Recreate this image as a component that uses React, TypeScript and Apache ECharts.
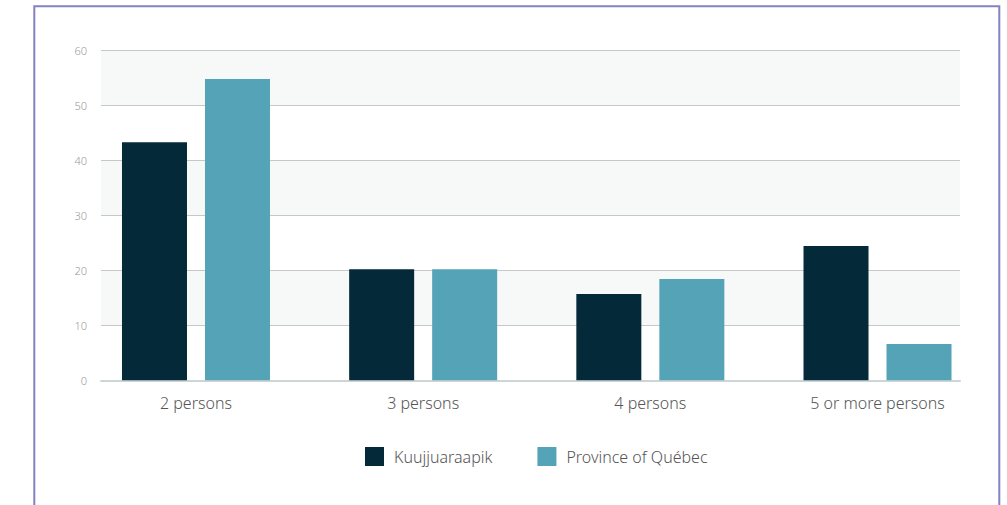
import React, { useEffect, useRef } from "react";
import * as echarts from "echarts";

const categories = ["2 persons", "3 persons", "4 persons", "5 or more persons"];
const kuujjuaraapik = [43.3, 20.2, 15.7, 24.4];
const quebec = [54.8, 20.2, 18.4, 6.6];
const seriesNames = ["Kuujjuaraapik", "Province of Québec"];
const colors = ["#042a3a", "#55a3b6"];

export default function App() {
  const ref = useRef<HTMLDivElement>(null);
  useEffect(() => {
    if (!ref.current) return;
    const chart = echarts.init(ref.current, null, { renderer: "svg" });
    const font = "'Noto Sans', 'Open Sans', sans-serif";
    chart.setOption({
      animation: false,
      textStyle: { fontFamily: font },
      graphic: [
        {
          type: "rect",
          shape: { x: 34.3, y: 6.3, width: 965, height: 540 },
          style: { fill: "none", stroke: "#8282c4", lineWidth: 2 },
          silent: true,
        },
      ],
      legend: {
        data: seriesNames,
        left: 365,
        top: 447,
        padding: 0,
        icon: "rect",
        itemWidth: 19,
        itemHeight: 19,
        itemGap: 45,
        textStyle: { fontSize: 16, color: "#555", fontFamily: font, fontWeight: 300, padding: [0, 0, 0, 5] },
      },
      grid: [
        { left: 101, right: 47, top: 50.3, bottom: 124.7 },
        { left: 82.4, right: 15.9, top: 50.3, bottom: 124.7 },
      ],
      xAxis: [
        {
          type: "category",
          gridIndex: 0,
          data: categories,
          axisLine: { show: true, lineStyle: { color: "#ccd6d6", width: 2 } },
          axisTick: { show: false },
          axisLabel: { show: false },
        },
        {
          type: "category",
          gridIndex: 1,
          data: categories,
          axisLine: { show: false },
          axisTick: { show: false },
          axisLabel: { color: "#555", fontSize: 16, fontWeight: 300, margin: 15, fontFamily: font },
        },
      ],
      yAxis: [
        {
          type: "value",
          gridIndex: 0,
          min: 0,
          max: 60,
          interval: 10,
          axisLabel: { color: "#999", fontSize: 11, fontWeight: 300, margin: 14, fontFamily: font },
          axisLine: { show: false },
          axisTick: { show: false },
          splitLine: { show: true, lineStyle: { color: "#c8c8c8", width: 1 } },
          splitArea: { show: true, areaStyle: { color: ["rgba(255,255,255,0)", "#f7f8f8"] } },
        },
        {
          type: "value",
          gridIndex: 1,
          min: 0,
          max: 60,
          interval: 10,
          show: false,
          splitLine: { show: false },
        },
      ],
      series: [
        {
          name: seriesNames[0],
          type: "bar",
          xAxisIndex: 1,
          yAxisIndex: 1,
          data: kuujjuaraapik,
          barWidth: 65,
          barGap: "27.7%",
          itemStyle: { color: colors[0] },
        },
        {
          name: seriesNames[1],
          type: "bar",
          xAxisIndex: 1,
          yAxisIndex: 1,
          data: quebec,
          barWidth: 65,
          barGap: "27.7%",
          itemStyle: { color: colors[1] },
        },
      ],
    });
    return () => chart.dispose();
  }, []);
  return (
    <div
      ref={ref}
      style={{ position: "absolute", left: 0, top: 0, width: 1007, height: 505, background: "#fff" }}
    />
  );
}
